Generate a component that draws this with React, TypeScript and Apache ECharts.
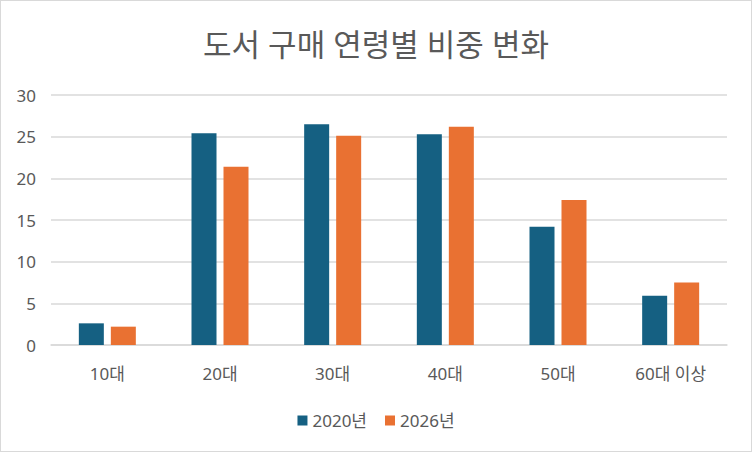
import React, { useEffect, useRef } from "react";
import * as echarts from "echarts";

const categories = ["10대", "20대", "30대", "40대", "50대", "60대 이상"];
const series2020 = [2.6, 25.4, 26.5, 25.3, 14.2, 5.9];
const series2026 = [2.2, 21.4, 25.1, 26.2, 17.4, 7.5];
const seriesNames = ["2020년", "2026년"];
const titleText = "도서 구매 연령별 비중 변화";

const FONT = "'Noto Sans', 'Noto Sans CJK KR', sans-serif";

export default function App() {
  const ref = useRef<HTMLDivElement>(null);
  useEffect(() => {
    document.body.style.margin = "0";
    const chart = echarts.init(ref.current!, null, { renderer: "svg" });
    chart.setOption({
      animation: false,
      backgroundColor: "#ffffff",
      title: {
        text: titleText,
        left: "center",
        top: 22,
        textStyle: { fontFamily: FONT, fontSize: 31, fontWeight: "normal", color: "#595959" },
      },
      legend: {
        bottom: 17,
        left: "center",
        itemWidth: 10,
        itemHeight: 10,
        itemGap: 18,
        icon: "rect",
        textStyle: { fontFamily: FONT, fontSize: 17, color: "#595959" },
        data: seriesNames,
      },
      grid: { left: 50, right: 24, top: 94, bottom: 106, containLabel: false },
      xAxis: {
        type: "category",
        data: categories,
        axisLine: { show: true, lineStyle: { color: "#d9d9d9", width: 1.5 } },
        axisTick: { show: false },
        axisLabel: { fontFamily: FONT, fontSize: 17, color: "#595959", margin: 20 },
      },
      yAxis: {
        type: "value",
        min: 0,
        max: 30,
        interval: 5,
        axisLine: { show: false },
        axisTick: { show: false },
        splitLine: { lineStyle: { color: "#d9d9d9", width: 1.5 } },
        axisLabel: { fontFamily: FONT, fontSize: 17, color: "#595959", margin: 15 },
      },
      series: [
        {
          name: seriesNames[0],
          type: "bar",
          data: series2020,
          barWidth: 25,
          barGap: "28%",
          itemStyle: { color: "#156082" },
        },
        {
          name: seriesNames[1],
          type: "bar",
          data: series2026,
          barWidth: 25,
          barGap: "28%",
          itemStyle: { color: "#E97132" },
        },
      ],
    });
    return () => chart.dispose();
  }, []);
  return (
    <div
      ref={ref}
      style={{
        position: "absolute",
        left: 0,
        top: 0,
        width: 752,
        height: 452,
        boxSizing: "border-box",
        border: "1px solid #d9d9d9",
      }}
    />
  );
}
